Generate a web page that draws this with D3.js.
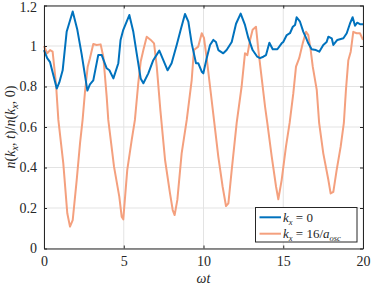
<!DOCTYPE html>
<html><head><meta charset="utf-8">
<script src="https://cdn.jsdelivr.net/npm/d3@7"></script>
<style>body{margin:0;background:#fff}svg{display:block}</style>
</head><body><svg id="c" width="374" height="287" font-family="Liberation Serif"></svg>
<script>
const xTicks=[0,5,10,15,20];
const yTicks=[0,0.2,0.4,0.6,0.8,1,1.2];
const yTickLabels=["0","0.2","0.4","0.6","0.8","1","1.2"];
const tBlue=[0,0.2,0.38,0.54,0.8,0.96,1.17,1.42,1.8,2.09,2.36,2.72,2.88,3.09,3.4,3.62,3.93,4.1,4.35,4.66,4.8,4.97,5.35,5.6,5.81,6.06,6.23,6.54,6.85,7.23,7.48,7.75,8.0,8.32,8.57,8.84,9.05,9.26,9.53,9.67,9.89,9.99,10.2,10.41,10.62,10.78,10.93,11.24,11.45,11.77,12.04,12.33,12.6,12.81,13.08,13.37,13.54,13.75,13.92,14.13,14.34,14.63,14.9,15.0,15.22,15.42,15.6,15.74,15.84,16.05,16.26,16.43,16.57,16.78,17.05,17.26,17.51,17.72,17.83,18.04,18.14,18.39,18.77,18.98,19.18,19.35,19.5,19.64,19.81,20];
const nBlue=[0.98,0.94,0.92,0.87,0.79,0.82,0.88,1.07,1.17,1.08,0.96,0.78,0.81,0.83,0.955,0.955,0.89,0.88,0.84,0.915,1.03,1.08,1.153,1.07,0.964,0.84,0.816,0.865,0.93,0.977,0.93,0.88,0.915,1.005,1.08,1.158,1.12,1.013,0.915,0.915,0.873,0.865,0.94,1.005,1.03,1.02,0.98,0.964,0.98,1.02,1.11,1.16,1.104,1.04,0.98,0.947,0.94,0.947,0.955,1.016,0.984,0.984,1.013,1.02,1.054,1.063,1.095,1.104,1.142,1.12,1.07,1.04,1.013,0.984,0.98,0.972,1.005,1.02,1.046,1.038,1.005,1.03,1.038,1.063,1.11,1.142,1.10,1.115,1.108,1.108];
const tOrange=[0,0.2,0.38,0.54,0.75,0.9,1.21,1.46,1.63,1.8,2.05,2.26,2.42,2.57,2.74,2.88,3.09,3.3,3.55,3.72,3.93,4.03,4.39,4.72,4.87,4.97,5.22,5.5,5.7,5.91,6.06,6.23,6.44,6.69,6.9,7.07,7.3,7.59,7.9,8.07,8.19,8.36,8.63,8.95,9.26,9.4,9.67,9.89,10.03,10.2,10.41,10.62,10.93,11.2,11.41,11.56,11.77,12.08,12.39,12.6,12.75,12.92,13.08,13.29,13.44,13.65,13.86,14.0,14.28,14.55,14.69,14.9,15.17,15.4,15.63,15.8,16.0,16.22,16.43,16.57,16.72,16.85,17.1,17.25,17.51,17.83,17.97,18.14,18.35,18.6,18.8,18.93,19.08,19.23,19.39,19.6,19.81,20];
const nOrange=[1.0,0.964,0.98,0.972,0.816,0.635,0.42,0.174,0.108,0.14,0.338,0.52,0.635,0.774,0.898,0.94,1.01,1.005,1.008,0.947,0.75,0.635,0.404,0.256,0.157,0.144,0.388,0.536,0.635,0.816,0.922,0.98,1.046,1.03,1.013,0.898,0.68,0.437,0.272,0.19,0.165,0.24,0.47,0.635,0.832,0.98,0.997,1.063,1.04,0.94,0.8,0.66,0.453,0.305,0.21,0.223,0.388,0.62,0.8,0.964,0.955,1.03,1.08,1.095,0.98,0.84,0.70,0.62,0.453,0.305,0.243,0.338,0.503,0.62,0.766,0.898,0.94,1.013,1.07,1.054,0.98,0.898,0.783,0.62,0.47,0.338,0.272,0.28,0.388,0.503,0.62,0.783,0.93,0.972,1.07,1.063,1.063,1.03];
const colors=["#0072BD","#F4A07E"];
const FONT="Liberation Serif";

const svg=d3.select("#c");
const L=44,R=363,T=5.5,B=248.5;
const x=d3.scaleLinear().domain([0,20]).range([L,R]);
const y=d3.scaleLinear().domain([0,1.2]).range([B,T]);

const g=svg.append("g");
g.selectAll(".gx").data(xTicks).enter().append("line").attr("x1",d=>x(d)).attr("x2",d=>x(d)).attr("y1",T).attr("y2",B).attr("stroke","#e3e3e3").attr("stroke-width",1);
g.selectAll(".gy").data(yTicks).enter().append("line").attr("y1",d=>y(d)).attr("y2",d=>y(d)).attr("x1",L).attr("x2",R).attr("stroke","#e3e3e3").attr("stroke-width",1);

const line=d3.line().x(d=>x(d[0])).y(d=>y(d[1]));
const series=[d3.zip(tOrange,nOrange),d3.zip(tBlue,nBlue)];
svg.append("path").datum(series[0]).attr("d",line).attr("fill","none").attr("stroke",colors[1]).attr("stroke-width",2).attr("stroke-linejoin","round");
svg.append("path").datum(series[1]).attr("d",line).attr("fill","none").attr("stroke",colors[0]).attr("stroke-width",2).attr("stroke-linejoin","round");

const ax=d3.axisBottom(x).tickValues(xTicks).tickSizeInner(-3).tickSizeOuter(0).tickPadding(8);
const axg=svg.append("g").attr("transform",`translate(0,${B})`).call(ax);
const axt=svg.append("g").attr("transform",`translate(0,${T})`).call(d3.axisTop(x).tickValues(xTicks).tickSizeInner(-3).tickSizeOuter(0).tickFormat(""));
const ay=d3.axisLeft(y).tickValues(yTicks).tickFormat((d,i)=>yTickLabels[i]).tickSizeInner(-3).tickSizeOuter(0).tickPadding(7);
const ayg=svg.append("g").attr("transform",`translate(${L},0)`).call(ay);
const ayr=svg.append("g").attr("transform",`translate(${R},0)`).call(d3.axisRight(y).tickValues(yTicks).tickSizeInner(-3).tickSizeOuter(0).tickFormat(""));
[axg,axt,ayg,ayr].forEach(a=>{a.attr("font-family",FONT);a.select(".domain").attr("stroke","#262626").attr("stroke-width",1);a.selectAll(".tick line").attr("stroke","#262626");a.selectAll("text").attr("font-family",FONT).attr("font-size",14).attr("fill","#262626");});
ayg.selectAll("text").filter(d=>d===1.2).attr("dy","0.4em");

svg.append("text").attr("x",(L+R)/2).attr("y",283).attr("text-anchor","middle").attr("font-family",FONT).attr("font-size",14).attr("font-style","italic").attr("fill","#262626").text("ωt");
const yl=svg.append("text").attr("transform",`translate(15,${(T+B)/2}) rotate(-90)`).attr("text-anchor","middle").attr("font-family",FONT).attr("font-size",14).attr("fill","#262626");
const parts=[["n","i"],["(",""],["k","i"],["x","s"],[", ",""],["t","i"],[")/",""],["n","i"],["(",""],["k","i"],["x","s"],[", 0)",""]];
function addParts(el,ps,sz){let sub=false;ps.forEach(p=>{const ts=el.append("tspan").text(p[0]);if(p[1]==="i")ts.attr("font-style","italic");if(p[1]==="s"){ts.attr("font-style","italic").attr("font-size",sz).attr("dy",3);sub=true;}else if(sub){ts.attr("dy",-3);sub=false;}});}
addParts(yl,parts,10);

const lg=svg.append("g");
lg.append("rect").attr("x",255.5).attr("y",207.5).attr("width",101.5).attr("height",34.5).attr("fill","#fff").attr("stroke","#262626").attr("stroke-width",1);
const legendItems=[{c:colors[0],p:[["k","i"],["x","s"],[" = 0",""]]},{c:colors[1],p:[["k","i"],["x","s"],[" = 16/",""],["a","i"],["osc","s"]]}];
legendItems.forEach((it,i)=>{const yy=217.3+i*16.4;
 lg.append("line").attr("x1",259.5).attr("x2",281).attr("y1",yy).attr("y2",yy).attr("stroke",it.c).attr("stroke-width",2);
 const t=lg.append("text").attr("x",283).attr("y",yy+4.5).attr("font-family",FONT).attr("font-size",13).attr("fill","#262626");addParts(t,it.p,8.5);});
</script></body></html>
